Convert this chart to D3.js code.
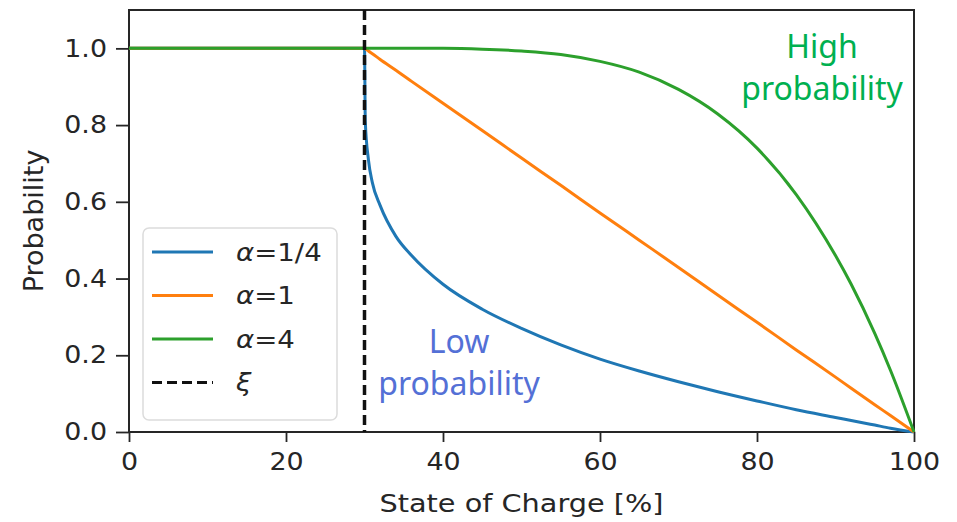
<!DOCTYPE html>
<html lang="en">
<head>
<meta charset="UTF-8">
<title>Probability vs State of Charge</title>
<script src="https://cdn.jsdelivr.net/npm/d3@7"></script>
<style>
  body { margin: 0; background: #fff; }
  svg text { font-family: "DejaVu Sans", sans-serif; fill: #262626; }
  .axis path, .axis line { stroke: #262626; }
  .note { font-family: "Noto Sans", "Open Sans", sans-serif; }
</style>
</head>
<body>
<script>
// values
const socAll   = [0, 30, 30.1, 30.5, 31, 32, 34, 36, 40, 45, 50, 55, 60, 65, 70, 75, 80, 85, 90, 92, 95, 97, 100];
const probLow  = [1, 1, 0.81, 0.71, 0.65, 0.59, 0.51, 0.46, 0.385, 0.32, 0.27, 0.227, 0.19, 0.159, 0.131, 0.105, 0.081, 0.058, 0.038, 0.03, 0.018, 0.01, 0];
const probMid  = [1, 1, 0.999, 0.993, 0.986, 0.971, 0.943, 0.914, 0.857, 0.786, 0.714, 0.643, 0.571, 0.5, 0.429, 0.357, 0.286, 0.214, 0.143, 0.114, 0.071, 0.043, 0];
const probHigh = [1, 1, 1, 1, 1, 1, 1, 1, 1, 0.998, 0.993, 0.984, 0.966, 0.938, 0.893, 0.829, 0.74, 0.619, 0.46, 0.385, 0.257, 0.161, 0];
const xi = 30;
const xTicks = [0, 20, 40, 60, 80, 100];
const yTicks = [0, 0.2, 0.4, 0.6, 0.8, 1.0];
const seriesNames  = ["α=1/4", "α=1", "α=4"];
const seriesColors = ["#1f77b4", "#ff7f0e", "#2ca02c"];

const width = 957, height = 522;
const margin = {top: 10, right: 43, bottom: 90, left: 129};
const sx = 1.12; // the picture is a bit wider than tall

const svg = d3.select('body').append('svg')
    .attr('width', width)
    .attr('height', height);

const x = d3.scaleLinear().domain([0, 100]).range([margin.left, width - margin.right]);
const y = d3.scaleLinear().domain([0, 1.1]).range([height - margin.bottom, margin.top]);

// axes
svg.append('g')
    .attr('class', 'axis')
    .attr('transform', 'translate(0,' + (height - margin.bottom) + ')')
    .call(d3.axisBottom(x).tickValues(xTicks).tickSize(10).tickPadding(11).tickFormat(d3.format('d')))
  .selectAll('text')
    .attr('transform', 'scale(' + sx + ',1)');
svg.append('g')
    .attr('class', 'axis')
    .attr('transform', 'translate(' + margin.left + ',0)')
    .call(d3.axisLeft(y).tickValues(yTicks).tickSize(13).tickPadding(9).tickFormat(d3.format('.1f')))
  .selectAll('text')
    .attr('x', -22 / sx)
    .attr('transform', 'scale(' + sx + ',1)');
svg.selectAll('.axis text').style('font-size', '24px').attr('font-family', null);
svg.selectAll('.axis line').attr('stroke-width', 1.8);
svg.selectAll('.axis .domain').remove();

// frame
svg.append('rect')
    .attr('x', margin.left).attr('y', margin.top)
    .attr('width', width - margin.left - margin.right)
    .attr('height', height - margin.top - margin.bottom)
    .attr('fill', 'none').attr('stroke', '#262626').attr('stroke-width', 2);

// curves
const seriesData = [probLow, probMid, probHigh];
const line = d3.line()
    .x(d => x(d[0]))
    .y(d => y(d[1]))
    .curve(d3.curveMonotoneX);

seriesData.forEach(function(vals, i) {
  svg.append('path')
      .datum(socAll.map((s, j) => [s, vals[j]]))
      .attr('d', line)
      .attr('fill', 'none')
      .attr('stroke', seriesColors[i])
      .attr('stroke-width', 3);
});

// xi marker
svg.append('line')
    .attr('x1', x(xi)).attr('x2', x(xi))
    .attr('y1', y(1.1)).attr('y2', y(0))
    .attr('stroke', '#111').attr('stroke-width', 3.5)
    .attr('stroke-dasharray', '10,5');

// legend
const lg = svg.append('g').attr('transform', 'translate(143,228)');
lg.append('rect')
    .attr('width', 194).attr('height', 192)
    .attr('rx', 6)
    .attr('fill', '#fff').attr('fill-opacity', 0.8)
    .attr('stroke', '#dcdcdc').attr('stroke-width', 1.5);

const legendItems = seriesNames.map((n, i) => ({name: n, color: seriesColors[i], dash: null}))
    .concat([{name: 'ξ', color: '#111', dash: '10,5'}]);

legendItems.forEach(function(d, i) {
  const yy = 24 + i * 43.5;
  lg.append('line')
      .attr('x1', 9).attr('x2', 70)
      .attr('y1', yy).attr('y2', yy)
      .attr('stroke', d.color).attr('stroke-width', 3.2)
      .attr('stroke-dasharray', d.dash);
  const t = lg.append('text')
      .attr('x', 93 / 1.15).attr('y', yy + 9)
      .attr('transform', 'scale(1.15,1)')
      .style('font-size', '24px');
  t.append('tspan').attr('font-style', 'italic').text(d.name.charAt(0));
  t.append('tspan').text(d.name.slice(1));
});

// axis labels
svg.append('text')
    .attr('x', (margin.left + width - margin.right) / 2 / 1.15)
    .attr('y', 512)
    .attr('transform', 'scale(1.15,1)')
    .attr('text-anchor', 'middle')
    .style('font-size', '25px')
    .text('State of Charge [%]');

svg.append('text')
    .attr('transform', 'translate(43,' + ((margin.top + height - margin.bottom) / 2) + ') rotate(-90)')
    .attr('text-anchor', 'middle')
    .style('font-size', '27px')
    .text('Probability');

// notes
const notes = [
  {lines: ['High', 'probability'], x: 822, y: 58, color: '#00b050'},
  {lines: ['Low', 'probability'], x: 459, y: 353, color: '#5470d6'}
];
notes.forEach(function(n) {
  n.lines.forEach(function(s, i) {
    svg.append('text')
        .attr('class', 'note')
        .attr('x', n.x).attr('y', n.y + i * 42)
        .attr('text-anchor', 'middle')
        .style('font-size', '32px')
        .style('fill', n.color)
        .text(s);
  });
});
</script>
</body>
</html>
